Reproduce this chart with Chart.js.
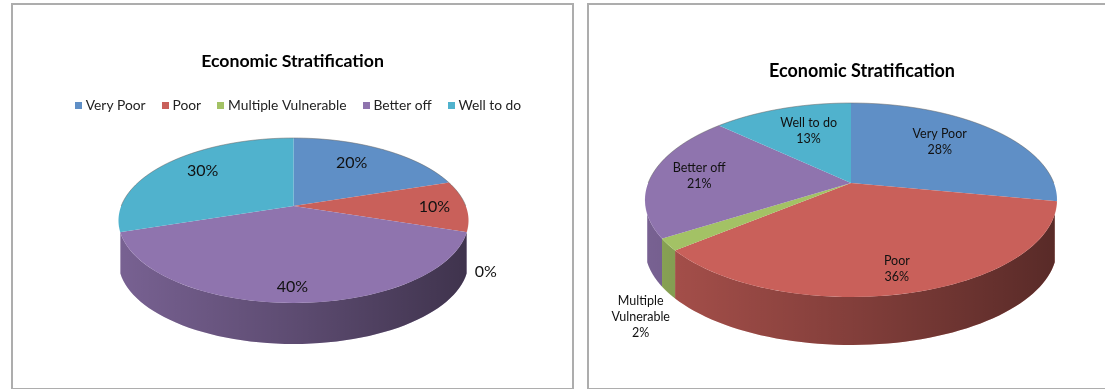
<!DOCTYPE html>
<html>
<head>
<meta charset="utf-8">
<title>Economic Stratification</title>
<script src="https://cdn.jsdelivr.net/npm/chart.js@4"></script>
<style>
    html, body { margin: 0; padding: 0; background: #fff; overflow: hidden; width: 1105px; height: 389px; }
    .box { position: absolute; top: 3px; height: 383px; border: 2px solid #adadad; box-sizing: content-box; }
    #boxLeft { left: 11px; width: 559px; }
    #boxRight { left: 587px; width: 540px; }
</style>
</head>
<body>
<div class="box" id="boxLeft"><canvas id="chartLeft"></canvas></div>
<div class="box" id="boxRight"><canvas id="chartRight"></canvas></div>
<script>
const categories = ['Very Poor', 'Poor', 'Multiple Vulnerable', 'Better off', 'Well to do'];
const leftValues = [20, 10, 0, 40, 30];
const rightValues = [28, 36, 2, 21, 13];
const sliceColors = ['#5f8fc6', '#c9605a', '#a3c265', '#8f74ae', '#50b2cd'];
const chartTitle = 'Economic Stratification';

// tweaks from the default label spot (65% out along the slice middle)
const leftNudges = [[-2, -5], [29, 1], [82, 49], [-1, 22], [-6, -7]];
const rightNudges = [[-6, -5], [9, 19], [-96, 95], [-22, -1], [5, -1]];

// perspective for a tilted disc, worked out from how far the rim sits behind and in front of the centre
function makeTilt(back, front, halfWidth) {
    const p = (front - back) / (front + back);
    const A = back * (1 + p);
    const B = halfWidth * Math.sqrt(1 - p * p);
    return {
        p: p,
        toX: function (u, v) { return B * u / (1 - p * v); },
        toY: function (u, v) { return A * v / (1 - p * v); },
        backV: function (dy) { return (dy / A) / (1 + p * dy / A); }
    };
}

function swatch(color) {
    const c = document.createElement('canvas');
    c.width = 7;
    c.height = 7;
    const g = c.getContext('2d');
    g.fillStyle = color;
    g.fillRect(0, 0, 7, 7);
    return c;
}

// the library's arcs get redrawn row by row, each row stretched to the perspective width
const pie3d = {
    id: 'pie3d',
    afterLayout(chart, args, opts) {
        chart.titleBlock.left += opts.titleShift;
        chart.titleBlock.right += opts.titleShift;
        chart.legend.left += opts.legendShift;
        chart.legend.right += opts.legendShift;
    },
    beforeDatasetDraw() {
        return false;
    },
    beforeDatasetsDraw(chart, args, opts) {
        const ctx = chart.ctx;
        const arcs = chart.getDatasetMeta(0).data;
        const tilt = makeTilt(opts.back, opts.front, arcs[0].outerRadius);
        const cx = arcs[0].x;
        const cy = Math.round(arcs[0].y);
        const r = arcs[0].outerRadius;

        arcs.forEach(function (arc, i) {
            const from = Math.max(arc.startAngle, opts.wallStart);
            const to = Math.min(arc.endAngle, Math.PI - opts.wallStart);
            if (to <= from) {
                return;
            }
            const shade = ctx.createLinearGradient(cx - r, 0, cx + r, 0);
            shade.addColorStop(0, 'rgba(0,0,0,0.16)');
            shade.addColorStop(0.5, 'rgba(0,0,0,0.35)');
            shade.addColorStop(1, 'rgba(0,0,0,0.56)');
            const steps = 60;
            [sliceColors[i], shade].forEach(function (fill) {
                ctx.beginPath();
                for (let s = 0; s <= steps; s++) {
                    const a = from + (to - from) * s / steps;
                    ctx.lineTo(cx + tilt.toX(Math.cos(a), Math.sin(a)), cy + tilt.toY(Math.cos(a), Math.sin(a)));
                }
                for (let s = steps; s >= 0; s--) {
                    const a = from + (to - from) * s / steps;
                    ctx.lineTo(cx + tilt.toX(Math.cos(a), Math.sin(a)), cy + opts.depth + tilt.toY(Math.cos(a), Math.sin(a)));
                }
                ctx.closePath();
                ctx.fillStyle = fill;
                ctx.fill();
            });
        });
    },
    afterDatasetsDraw(chart, args, opts) {
        const ctx = chart.ctx;
        const meta = chart.getDatasetMeta(0);
        const arc0 = meta.data[0];
        const r = arc0.outerRadius;
        const tilt = makeTilt(opts.back, opts.front, r);
        const cx = arc0.x;
        const cy = Math.round(arc0.y);

        for (let y = cy - opts.back; y < cy + opts.front; y++) {
            const v0 = tilt.backV(y - cy);
            const v1 = tilt.backV(y + 1 - cy);
            const vm = (v0 + v1) / 2;
            ctx.save();
            ctx.beginPath();
            ctx.rect(0, y, chart.width, 1);
            ctx.clip();
            ctx.translate(cx, y);
            ctx.scale(tilt.toX(1, vm) / r, 1 / (r * (v1 - v0)));
            ctx.translate(-cx, -(arc0.y + r * v0));
            meta.controller.draw();
            ctx.restore();
        }

        // faint grey rim along the back of the disc
        ctx.save();
        ctx.beginPath();
        for (let s = 0; s <= 90; s++) {
            const a = Math.PI + Math.PI * s / 90;
            ctx.lineTo(cx + tilt.toX(Math.cos(a), Math.sin(a)), cy + tilt.toY(Math.cos(a), Math.sin(a)));
        }
        ctx.strokeStyle = 'rgba(110,110,110,0.55)';
        ctx.lineWidth = 1;
        ctx.stroke();
        ctx.restore();

        drawLabels(chart, meta.data, opts, tilt, cy);
    }
};

function drawLabels(chart, arcs, opts, tilt, cy) {
    const ctx = chart.ctx;
    ctx.save();
    ctx.font = opts.labelFont;
    ctx.fillStyle = '#111';
    ctx.textAlign = 'center';
    ctx.textBaseline = 'middle';
    arcs.forEach(function (arc, i) {
        const mid = (arc.startAngle + arc.endAngle) / 2;
        const u = 0.65 * Math.cos(mid);
        const v = 0.65 * Math.sin(mid);
        const x = arc.x + tilt.toX(u, v) + opts.nudges[i][0];
        const y = cy + tilt.toY(u, v) + opts.nudges[i][1];
        const value = chart.data.datasets[0].data[i] + '%';
        let lines = [value];
        if (opts.showNames) {
            const name = chart.data.labels[i];
            lines = (name.length > 12 ? name.split(' ') : [name]).concat(value);
        }
        lines.forEach(function (line, n) {
            ctx.fillText(line, x, y + (n - (lines.length - 1) / 2) * opts.lineHeight);
        });
    });
    ctx.restore();
}

function makePie(id, values, settings) {
    return new Chart(document.getElementById(id), {
        type: 'pie',
        data: {
            labels: categories,
            datasets: [{
                data: values,
                backgroundColor: sliceColors,
                borderWidth: 0,
                clip: false,
                radius: settings.radius
            }]
        },
        options: {
            responsive: true,
            maintainAspectRatio: false,
            animation: false,
            layout: { padding: settings.padding },
            plugins: {
                title: {
                    display: true,
                    text: chartTitle,
                    color: '#000',
                    font: { family: 'Lato', size: settings.titleSize, weight: 'bold' },
                    padding: settings.titlePadding
                },
                legend: {
                    display: settings.legend,
                    position: 'top',
                    labels: {
                        usePointStyle: true,
                        boxWidth: 1,
                        boxHeight: 7,
                        padding: 19,
                        color: '#222',
                        font: { family: 'Lato', size: 13.8 },
                        generateLabels: function (chart) {
                            return Chart.overrides.pie.plugins.legend.labels.generateLabels(chart).map(function (item, i) {
                                item.pointStyle = swatch(sliceColors[i]);
                                return item;
                            });
                        }
                    }
                },
                tooltip: { enabled: false },
                pie3d: settings.pie
            }
        },
        plugins: [pie3d]
    });
}

makePie('chartLeft', leftValues, {
    radius: 175,
    legend: true,
    titleSize: 17.7,
    padding: { left: 2, right: 0, bottom: 99 },
    titlePadding: { top: 46, bottom: 7 },
    pie: {
        back: 68,
        front: 97,
        depth: 41,
        wallStart: 0.32,
        titleShift: -1,
        legendShift: 6,
        labelFont: '16px Lato',
        lineHeight: 16,
        showNames: false,
        nudges: leftNudges
    }
});

makePie('chartRight', rightValues, {
    radius: 206,
    legend: false,
    titleSize: 18,
    padding: { left: 0, right: 16, bottom: 114 },
    titlePadding: { top: 55, bottom: 10 },
    pie: {
        back: 80,
        front: 114,
        depth: 48,
        wallStart: 0.32,
        titleShift: 11,
        legendShift: 0,
        labelFont: '12.5px Lato',
        lineHeight: 16,
        showNames: true,
        nudges: rightNudges
    }
});
</script>
</body>
</html>
